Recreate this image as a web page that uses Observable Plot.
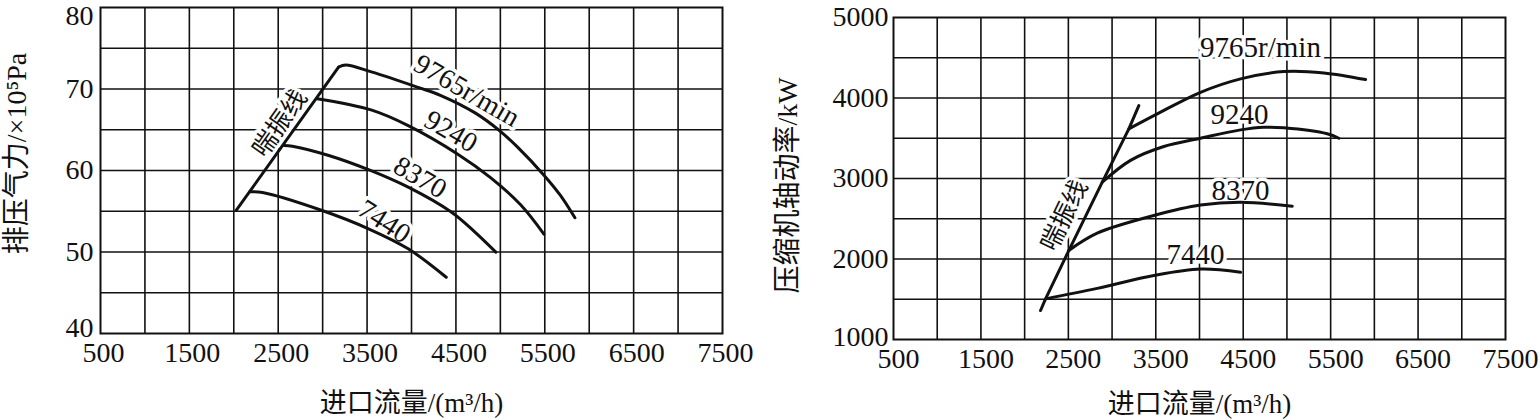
<!DOCTYPE html>
<html><head><meta charset="utf-8">
<script src="https://cdn.jsdelivr.net/npm/d3@7"></script>
<script src="https://cdn.jsdelivr.net/npm/@observablehq/plot@0.6"></script>
<style>
html,body{margin:0;padding:0;background:#fff;}
#wrap{display:flex;width:1540px;height:420px;overflow:hidden;}
</style></head><body><div id="wrap"></div>
<script>
// ---- tick labels ----
const xTicks = [500, 1500, 2500, 3500, 4500, 5500, 6500, 7500];
const yTicksPressure = [40, 50, 60, 70, 80];
const yTicksPower = [1000, 2000, 3000, 4000, 5000];
const xTitle = "进口流量/(m³/h)";
const yTitlePressure = "排压气力/×10⁵Pa";
const yTitlePower = "压缩机轴动率/kW";
const surgeName = "喘振线";
const speeds = ["9765", "9240", "8370", "7440"];

// ---- left chart: discharge pressure (×10^5 Pa) vs inlet flow (m3/h) ----
const pressureSurge = [[2027, 55.1], [3181, 72.7]];
const pressure9765 = [[3181, 72.7], [3260, 72.95], [3549, 72.1], [4074, 70.2], [4331, 69.2], [4711, 67.1], [4990, 64.9], [5191, 62.9], [5493, 59.4], [5672, 57.0], [5839, 54.2]];
const pressure9240 = [[2938, 68.8], [3553, 67.4], [3963, 65.5], [4521, 62.0], [4893, 59.1], [5228, 55.8], [5490, 52.2]];
const pressure8370 = [[2566, 63.07], [2659, 62.98], [3069, 61.84], [3516, 60.1], [3963, 57.95], [4447, 54.9], [4708, 52.5], [4949, 49.98]];
const pressure7440 = [[2180, 57.4], [2324, 57.3], [2994, 55.09], [3516, 52.85], [3963, 50.39], [4391, 46.9]];
const pressureLabels = [
  {text: "9765r/min", x: 4622, y: 69.8, angle: 30},
  {text: "9240", x: 4443, y: 64.8, angle: 30},
  {text: "8370", x: 4097, y: 59.14, angle: 30},
  {text: "7440", x: 3695, y: 53.74, angle: 33}
];
const pressureSurgeLabel = [{text: surgeName, x: 2520, y: 65.77, angle: -55}];

// ---- right chart: compressor shaft power (kW) vs inlet flow (m3/h) ----
const powerSurge = [[2182, 1360], [2239, 1505], [2505, 2105], [2888, 2954], [3192, 3617], [3306, 3906]];
const power9765 = [[3192, 3617], [3517, 3803], [4012, 4071], [4470, 4238], [4965, 4329], [5423, 4312], [5900, 4229]];
const power9240 = [[2888, 2954], [3211, 3225], [3592, 3397], [4012, 3500], [4470, 3604], [4737, 3637], [4965, 3629], [5461, 3555], [5594, 3500]];
const power8370 = [[2505, 2105], [2830, 2320], [3478, 2540], [4012, 2670], [4470, 2705], [5061, 2656]];
const power7440 = [[2239, 1505], [2830, 1635], [3478, 1795], [4012, 1875], [4470, 1836]];
const powerLabels = [
  {text: "9765r/min", x: 4698, y: 4630, angle: 0},
  {text: "9240", x: 4458, y: 3795, angle: 0},
  {text: "8370", x: 4470, y: 2851, angle: 0},
  {text: "7440", x: 3955, y: 2056, angle: 0}
];
const powerSurgeLabel = [{text: surgeName, x: 2456, y: 2540, angle: -64}];

const FONT = '"Liberation Serif","Times New Roman","Noto Sans CJK SC",serif';
const INK = "#111";
const fmt = d => String(d);

function toRows(series) {
  const rows = [];
  series.forEach((pts, i) => pts.forEach(([x, y]) => rows.push({x, y, s: speeds[i]})));
  return rows;
}

function chart(o) {
  const yIn = o.yTicks.slice(1, -1);
  return Plot.plot({
    width: o.width, height: 420,
    marginLeft: o.ml, marginRight: o.mr, marginTop: o.mt, marginBottom: o.mb,
    style: {fontFamily: FONT, background: "white", color: INK, overflow: "visible"},
    x: {domain: [500, 7500]},
    y: {domain: o.yDomain},
    marks: [
      Plot.ruleX(o.xGrid, {stroke: INK, strokeWidth: 1.6}),
      Plot.ruleY(o.yGrid, {stroke: INK, strokeWidth: 1.6}),
      Plot.frame({stroke: INK, strokeWidth: 2}),
      Plot.text(o.labels, {x: "x", y: "y", text: "text", rotate: "angle", fontSize: o.labelSize,
        fill: INK, stroke: "white", strokeWidth: 7, paintOrder: "stroke", strokeLinejoin: "round",
        textAnchor: "middle", lineAnchor: "middle"}),
      Plot.text(o.surgeLabel, {x: "x", y: "y", text: "text", rotate: "angle", fontSize: 25,
        fill: INK, stroke: "white", strokeWidth: 7, paintOrder: "stroke", strokeLinejoin: "round",
        textAnchor: "middle", lineAnchor: "middle"}),
      Plot.line(o.surge, {x: d => d[0], y: d => d[1], stroke: INK, strokeWidth: 3, strokeLinejoin: "round"}),
      Plot.line(toRows(o.curves), {x: "x", y: "y", z: "s", curve: "catmull-rom", stroke: INK, strokeWidth: 3, strokeLinecap: "round"}),
      Plot.axisX(xTicks, {tickSize: 0, tickPadding: 9, fontSize: 28, dx: o.tickDx, label: null, fill: INK, tickFormat: fmt}),
      Plot.axisY(yIn, {tickSize: 0, tickPadding: o.yPad, fontSize: 28, label: null, fill: INK, tickFormat: fmt}),
      Plot.axisY([o.yTicks[0]], {tickSize: 0, tickPadding: o.yPad, fontSize: 28, label: null, fill: INK, tickFormat: fmt, dy: o.bottomDy}),
      Plot.axisY([o.yTicks[o.yTicks.length - 1]], {tickSize: 0, tickPadding: o.yPad, fontSize: 28, label: null, fill: INK, tickFormat: fmt, dy: o.topDy}),
      Plot.text([xTitle], {text: d => d, frameAnchor: "bottom", dy: o.xTitleDy, fontSize: 27,
        textAnchor: "middle", lineAnchor: "middle", fill: INK}),
      Plot.text([o.yTitle], {text: d => d, frameAnchor: "left", dx: o.yTitleDx, dy: o.yTitleDy, rotate: -90,
        fontSize: 28, textAnchor: "middle", lineAnchor: "middle", fill: INK})
    ]
  });
}

const left = chart({
  width: 770, ml: 100, mr: 48, mt: 7, mb: 87,
  yDomain: [40, 80],
  xGrid: d3.range(1000, 7500, 500),
  yGrid: d3.range(45, 80, 5),
  yTicks: yTicksPressure, topDy: 9, bottomDy: -5,
  labels: pressureLabels, labelSize: 28, surgeLabel: pressureSurgeLabel,
  surge: pressureSurge,
  curves: [pressure9765, pressure9240, pressure8370, pressure7440],
  tickDx: 3, yPad: 7, xTitleDy: 70,
  yTitle: yTitlePressure, yTitleDx: -83, yTitleDy: -17
});

const right = chart({
  width: 770, ml: 123, mr: 35, mt: 17, mb: 81,
  yDomain: [1000, 5000],
  xGrid: d3.range(1000, 7500, 500),
  yGrid: d3.range(1500, 5000, 500),
  yTicks: yTicksPower, topDy: 0, bottomDy: -2,
  labels: powerLabels, labelSize: 29, surgeLabel: powerSurgeLabel,
  surge: powerSurge,
  curves: [power9765, power9240, power8370, power7440],
  tickDx: 5, yPad: 5, xTitleDy: 65,
  yTitle: yTitlePower, yTitleDx: -105, yTitleDy: 7
});

document.getElementById("wrap").append(left, right);
</script>
</body></html>
